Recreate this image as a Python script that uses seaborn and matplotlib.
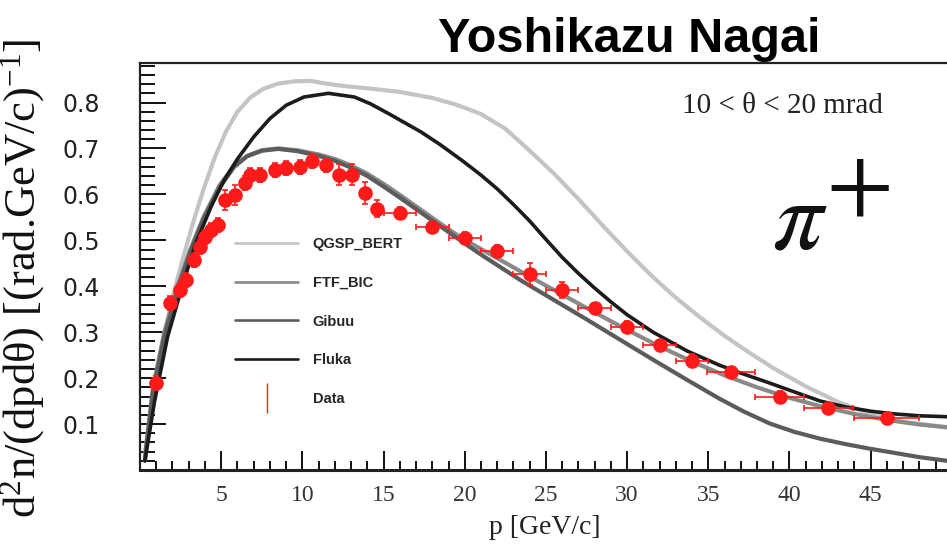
import matplotlib
matplotlib.use("Agg")
import matplotlib.pyplot as plt
from matplotlib.lines import Line2D
from matplotlib.ticker import MultipleLocator
import pandas as pd
import seaborn as sns

sns.set_theme(style="white")
plt.rcParams["font.family"] = ["DejaVu Sans"]
plt.rcParams["mathtext.fontset"] = "custom"
plt.rcParams["mathtext.rm"] = "Liberation Serif"
plt.rcParams["mathtext.it"] = "Liberation Serif:italic"

# ---- model predictions: p [GeV/c] and d2n/(dp dtheta) ----
qgsp_p = [0.3, 0.8, 1.4, 2.0, 2.6, 3.2, 3.9, 4.6, 5.3, 6.0, 6.8, 7.6, 8.5, 9.5,
          10.5, 11.5, 12.5, 14.0, 16.0, 18.0, 19.5, 21.0, 22.5, 24.0, 25.5, 27.0,
          28.5, 30.0, 31.5, 33.0, 34.5, 36.0, 37.5, 39.0, 41.0, 43.0, 45.0, 47.0, 49.7]
qgsp_v = [0.02, 0.16, 0.28, 0.375, 0.455, 0.53, 0.61, 0.68, 0.737, 0.78, 0.811, 0.83,
          0.841, 0.846, 0.847, 0.841, 0.836, 0.831, 0.823, 0.810, 0.795, 0.775, 0.743,
          0.695, 0.645, 0.59, 0.532, 0.476, 0.423, 0.375, 0.332, 0.292, 0.256, 0.222,
          0.182, 0.148, 0.122, 0.105, 0.093]

ftf_p = [0.3, 0.8, 1.5, 2.3, 3.1, 3.9, 4.9, 5.8, 6.6, 7.5, 8.5, 9.7, 11.0, 12.0,
         13.0, 14.0, 15.0, 16.0, 17.0, 18.0, 19.0, 20.0, 21.0, 22.0, 23.0, 24.0,
         26.0, 28.0, 30.0, 32.0, 34.0, 36.0, 38.0, 40.0, 42.0, 44.0, 46.0, 48.0, 49.7]
ftf_v = [0.03, 0.18, 0.30, 0.40, 0.48, 0.55, 0.62, 0.662, 0.684, 0.696, 0.700, 0.696,
         0.687, 0.677, 0.663, 0.645, 0.623, 0.599, 0.574, 0.549, 0.524, 0.501, 0.481,
         0.461, 0.441, 0.421, 0.382, 0.343, 0.305, 0.269, 0.236, 0.206, 0.180, 0.157,
         0.138, 0.122, 0.109, 0.099, 0.093]

gibuu_p = [0.3, 0.8, 1.5, 2.3, 3.1, 3.9, 4.9, 5.8, 6.6, 7.5, 8.5, 9.7, 11.0, 12.0,
           13.0, 14.0, 15.0, 16.0, 17.0, 18.0, 19.0, 20.0, 21.0, 22.0, 23.4, 25.4,
           27.5, 29.5, 31.6, 33.7, 35.7, 37.2, 38.8, 40.3, 41.9, 43.5, 45.0, 46.5,
           48.0, 49.7]
gibuu_v = [0.02, 0.17, 0.29, 0.39, 0.475, 0.545, 0.615, 0.66, 0.683, 0.695, 0.699,
           0.694, 0.684, 0.673, 0.658, 0.640, 0.617, 0.593, 0.568, 0.543, 0.518, 0.493,
           0.469, 0.446, 0.414, 0.372, 0.328, 0.285, 0.240, 0.196, 0.155, 0.127, 0.101,
           0.083, 0.068, 0.056, 0.046, 0.037, 0.028, 0.020]

fluka_p = [0.3, 0.9, 1.7, 2.6, 3.4, 4.4, 5.2, 6.0, 7.0, 8.0, 9.0, 10.1, 11.6, 13.2,
           14.2, 15.3, 16.3, 17.3, 18.5, 19.9, 21.0, 22.0, 23.0, 24.0, 25.0, 26.0,
           27.0, 28.0, 29.0, 30.0, 31.6, 33.7, 35.7, 37.0, 38.8, 40.3, 41.9, 43.5,
           45.0, 46.5, 48.0, 49.7]
fluka_v = [0.02, 0.15, 0.29, 0.40, 0.49, 0.575, 0.632, 0.677, 0.725, 0.765, 0.794,
           0.812, 0.82, 0.812, 0.797, 0.776, 0.756, 0.736, 0.708, 0.672, 0.642, 0.612,
           0.578, 0.542, 0.502, 0.463, 0.428, 0.396, 0.366, 0.338, 0.300, 0.259, 0.228,
           0.211, 0.189, 0.170, 0.150, 0.137, 0.128, 0.122, 0.118, 0.116]

# ---- measurement ----
data_p = [0.99, 1.86, 2.44, 2.85, 3.32, 3.67, 3.98, 4.39, 4.80, 5.21, 5.83, 6.44,
          6.75, 7.37, 8.29, 9.00, 9.83, 10.6, 11.46, 12.27, 13.03, 13.85, 14.61,
          16.0, 18.0, 20.0, 22.0, 24.0, 26.0, 28.0, 30.0, 32.0, 34.0, 36.4, 39.4,
          42.4, 46.0]
data_v = [0.189, 0.363, 0.392, 0.413, 0.457, 0.486, 0.508, 0.522, 0.533, 0.588,
          0.598, 0.624, 0.642, 0.642, 0.653, 0.657, 0.659, 0.672, 0.663, 0.643,
          0.643, 0.603, 0.569, 0.560, 0.528, 0.506, 0.477, 0.426, 0.392, 0.352,
          0.312, 0.272, 0.238, 0.213, 0.160, 0.134, 0.1125]
data_xerr = [0.3, 0.3, 0.3, 0.3, 0.3, 0.3, 0.3, 0.3, 0.3, 0.3, 0.3, 0.3, 0.3, 0.3,
             0.3, 0.3, 0.3, 0.3, 0.3, 0.3, 0.3, 0.3, 0.3, 1.0, 1.0, 1.0, 1.0, 1.0,
             1.0, 1.0, 1.0, 1.0, 1.0, 1.5, 1.5, 1.5, 2.0]
data_yerr = [0.015, 0.015, 0.015, 0.015, 0.015, 0.015, 0.015, 0.015, 0.015, 0.022,
             0.022, 0.015, 0.015, 0.015, 0.015, 0.015, 0.015, 0.015, 0.015, 0.023,
             0.023, 0.023, 0.018, 0.012, 0.012, 0.012, 0.012, 0.024, 0.018, 0.012,
             0.012, 0.012, 0.014, 0.012, 0.012, 0.012, 0.012]

model_names = ["QGSP_BERT", "FTF_BIC", "Gibuu", "Fluka"]
model_colors = ["#c4c4c4", "#8a8a8a", "#5c5c5c", "#1c1c1c"]
model_widths = [3.0, 3.0, 3.0, 2.6]
x_tick_vals = [5, 10, 15, 20, 25, 30, 35, 40, 45]
y_tick_vals = [0.1, 0.2, 0.3, 0.4, 0.5, 0.6, 0.7, 0.8]

W, H = 947, 556
fig = plt.figure(figsize=(W / 100, H / 100), dpi=100)
ax = fig.add_axes([140 / W, 1 - 470 / H, (W - 140) / W, (470 - 63) / H])

curves = [(qgsp_p, qgsp_v), (ftf_p, ftf_v), (gibuu_p, gibuu_v), (fluka_p, fluka_v)]
for (px, py), name, col, lw in zip(curves, model_names, model_colors, model_widths):
    df = pd.DataFrame({"p": px, "v": py})
    sns.lineplot(data=df, x="p", y="v", ax=ax, color=col, lw=lw, sort=False,
                 estimator=None, zorder=2)
for ln in ax.get_lines():
    ln.set_solid_joinstyle("round")

ax.errorbar(data_p, data_v, xerr=data_xerr, yerr=data_yerr, fmt="o", color="#ff1a1a",
            ms=9.5, mec="#ff1a1a", elinewidth=1.2, capsize=2.5, capthick=1.2, zorder=4)

ax.set_xlim(0, 49.7)
ax.set_ylim(0, 0.886)
ax.set_xlabel("")
ax.set_ylabel("")

ax.set_xticks(x_tick_vals, [str(v) for v in x_tick_vals])
ax.set_yticks(y_tick_vals, [f"{v:.1f}" for v in y_tick_vals])
ax.xaxis.set_minor_locator(MultipleLocator(1))
ax.yaxis.set_minor_locator(MultipleLocator(0.02))

ax.tick_params(axis="y", which="major", direction="in", length=19, width=1.4,
               left=True, pad=29, labelsize=17, labelcolor="#222222", color="#111111")
ax.tick_params(axis="y", which="minor", direction="in", length=10.5, width=1.4,
               left=True, color="#111111")
ax.tick_params(axis="x", which="major", direction="in", length=13.5, width=1.4,
               bottom=True, pad=11, labelsize=17, labelcolor="#333333", color="#111111")
ax.tick_params(axis="x", which="minor", direction="in", length=6.5, width=1.4,
               bottom=True, color="#111111")
for lab in ax.get_xticklabels():
    lab.set_fontfamily("Liberation Serif")

for side in ("left", "top", "bottom"):
    ax.spines[side].set_visible(True)
    ax.spines[side].set_color("#222222")
ax.spines["left"].set_linewidth(1.6)
ax.spines["top"].set_linewidth(1.6)
ax.spines["bottom"].set_linewidth(2.2)
ax.spines["right"].set_visible(False)

# legend
handles = [Line2D([], [], color=c, lw=1.9) for c in model_colors]
handles.append(Line2D([], [], color="#ff1a1a", marker="|", ms=22, mew=1.0, lw=0))
leg = fig.legend(handles, model_names + ["Data"], loc="upper left",
                 bbox_to_anchor=(228 / W, 1 - 230 / H), frameon=False, borderpad=0,
                 handlelength=4.3, handletextpad=1.0, labelspacing=1.69, numpoints=1,
                 prop={"family": "Liberation Sans", "weight": "bold", "size": 10.5})

# annotations
fig.text(682 / W, 1 - 106 / H, "10 < θ < 20 mrad", ha="left", va="center",
         fontsize=21, family="Liberation Serif", color="#222222")
fig.text(797 / W, 1 - 249 / H, "π", ha="center", va="baseline", fontsize=72,
         family="STIXGeneral", style="italic", color="#111111")
fig.text(860 / W, 1 - 212 / H, "+", ha="center", va="baseline", fontsize=70,
         family="STIXGeneral", color="#111111")
fig.text(629 / W, 1 - 52 / H, "Yoshikazu Nagai", ha="center", va="baseline",
         fontsize=35, fontweight="bold", family="Liberation Sans", color="black")
fig.text(23 / W, 1 - 278 / H, r"d$^2$n/(dpdθ) [(rad.GeV/c)$^{-1}$]", rotation=90,
         ha="center", va="center", fontsize=32, family="Liberation Serif",
         color="#111111")
fig.text(545 / W, 1 - 528 / H, "p [GeV/c]", ha="center", va="center", fontsize=20,
         family="Liberation Serif", color="#222222")

fig.savefig("out.png", dpi=100, facecolor="white")
